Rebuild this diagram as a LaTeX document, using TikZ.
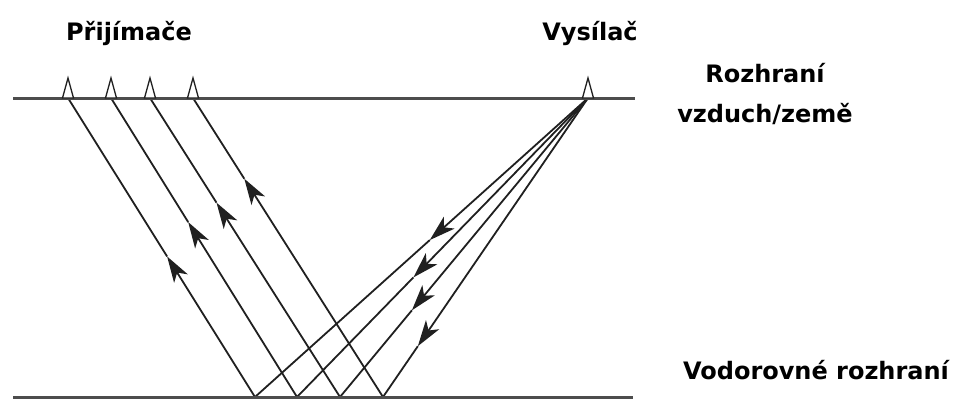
\documentclass[tikz,border=0pt]{standalone}
\usepackage{fontspec}
\setmainfont{DejaVu Sans}
\usetikzlibrary{arrows.meta,calc}
\definecolor{ink}{HTML}{202020}
\tikzset{
  ground/.style={draw=ink!80, line width=3pt},
  ray/.style={draw=ink, line width=1.8pt},
  headray/.style={ray, -{Stealth[length=26pt,width=16pt,inset=7pt]}},
  sensor/.style={draw=ink, line width=1.3pt, fill=white},
  lbl/.style={font=\fontsize{24}{28}\selectfont\bfseries, text=black, inner sep=0pt}
}
\begin{document}
\begin{tikzpicture}[x=1pt,y=-1pt]
\useasboundingbox (0,0) rectangle (962,410);
% interfaces
\coordinate (tl) at (13,98);
\coordinate (tr) at (635,98);
\coordinate (bl) at (13,397);
\coordinate (br) at (633,397);
% receivers, transmitter, reflection points
\coordinate (R1) at (68,98);
\coordinate (R2) at (111,98);
\coordinate (R3) at (150,98);
\coordinate (R4) at (193,98);
\coordinate (T) at (588,98);
\coordinate (B1) at (255,397);
\coordinate (B2) at (297,397);
\coordinate (B3) at (340,397);
\coordinate (B4) at (383,397);
% incident and reflected rays, each with an arrowhead part way along
\foreach \s/\e/\p/\n in {T/B1/0.475/i1, T/B2/0.60/i2, T/B3/0.71/i3, T/B4/0.83/i4,
                         B1/R1/0.47/r1, B2/R2/0.585/r2, B3/R3/0.65/r3, B4/R4/0.73/r4}{
  \coordinate (\n) at ($(\s)!\p!(\e)$);
  \draw[headray] (\s) -- (\n);
  \draw[ray] (\n) -- (\e);
}
% interface lines
\draw[ground] (tl) -- (tr);
\draw[ground] (bl) -- (br);
% sensors
\foreach \p in {R1,R2,R3,R4,T}{
  \draw[sensor] ($(\p)+(-5.5,0)$) -- ($(\p)+(0,-20)$) -- ($(\p)+(5.5,0)$) -- cycle;
}
% labels
\node[lbl] (lrx) at (129,33) {Přijímače};
\node[lbl] (ltx) at (590,33) {Vysílač};
\node[lbl] (lif1) at (765,73) {Rozhraní};
\node[lbl] (lif2) at (765,114) {vzduch/země};
\node[lbl] (lbot) at (816,370) {Vodorovné rozhraní};
\end{tikzpicture}
\end{document}
